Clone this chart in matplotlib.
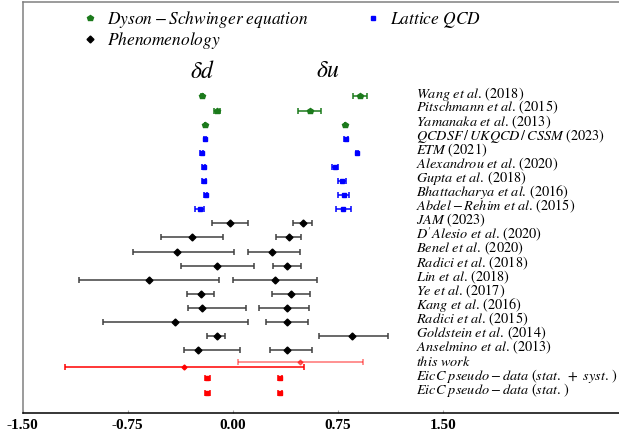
import matplotlib
matplotlib.use("Agg")
import matplotlib.pyplot as plt
from matplotlib.lines import Line2D
import numpy as np

plt.rcParams['mathtext.fontset'] = 'stix'
plt.rcParams['font.family'] = ['Liberation Serif', 'DejaVu Serif']

# ---------------- data (top row first) ----------------
labels = [
    r"$Wang\ et\ al.\,(2018)$",
    r"$Pitschmann\ et\ al.\,(2015)$",
    r"$Yamanaka\ et\ al.\,(2013)$",
    r"$QCDSF\,/\,UKQCD\,/\,CSSM\ (2023)$",
    r"$ETM\ (2021)$",
    r"$Alexandrou\ et\ al.\,(2020)$",
    r"$Gupta\ et\ al.\,(2018)$",
    r"$Bhattacharya\ et\ al.\,(2016)$",
    r"$Abdel-Rehim\ et\ al.\,(2015)$",
    r"$JAM\ (2023)$",
    r"$D'Alesio\ et\ al.\,(2020)$",
    r"$Benel\ et\ al.\,(2020)$",
    r"$Radici\ et\ al.\,(2018)$",
    r"$Lin\ et\ al.\,(2018)$",
    r"$Ye\ et\ al.\,(2017)$",
    r"$Kang\ et\ al.\,(2016)$",
    r"$Radici\ et\ al.\,(2015)$",
    r"$Goldstein\ et\ al.\,(2014)$",
    r"$Anselmino\ et\ al.\,(2013)$",
    r"$this\ work$",
    r"$EicC\ pseudo-data\ (stat.\ +\ syst.\,)$",
    r"$EicC\ pseudo-data\ (stat.\,)$",
]

# Dyson-Schwinger equation (rows 0-2)
dse_rows = [0, 1, 2]
dse_dd = [-0.22, -0.11, -0.20]
dse_dd_err = [0.005, 0.02, 0.0]
dse_du = [0.907, 0.55, 0.80]
dse_du_err = [0.05, 0.08, 0.0]

# Lattice QCD (rows 3-8)
lat_rows = [3, 4, 5, 6, 7, 8]
lat_dd = [-0.196, -0.222, -0.208, -0.204, -0.194, -0.236]
lat_dd_err = [0.008, 0.008, 0.008, 0.015, 0.014, 0.033]
lat_du = [0.81, 0.888, 0.729, 0.784, 0.792, 0.791]
lat_du_err = [0.012, 0.01, 0.022, 0.028, 0.042, 0.053]

# Phenomenology (rows 9-18)
phe_rows = [9, 10, 11, 12, 13, 14, 15, 16, 17, 18]
phe_dd = [-0.02, -0.29, -0.40, -0.11, -0.60, -0.226, -0.22, -0.41, -0.11, -0.25]
phe_dd_lo = [0.13, 0.22, 0.31, 0.26, 0.50, 0.10, 0.10, 0.52, 0.07, 0.10]
phe_dd_hi = [0.13, 0.22, 0.41, 0.26, 0.50, 0.09, 0.315, 0.52, 0.055, 0.30]
phe_du = [0.50, 0.40, 0.28, 0.386, 0.30, 0.414, 0.388, 0.386, 0.855, 0.386]
phe_du_lo = [0.07, 0.09, 0.17, 0.096, 0.30, 0.135, 0.20, 0.146, 0.24, 0.116]
phe_du_hi = [0.07, 0.09, 0.20, 0.104, 0.30, 0.135, 0.16, 0.154, 0.255, 0.184]

# this work (row 19)
tw_row = 19
tw_dd = -0.35
tw_dd_lo, tw_dd_hi = 0.85, 0.86
tw_du = 0.48
tw_du_lo, tw_du_hi = 0.44, 0.45

# EicC pseudo-data (rows 20-21)
eic_rows = [20, 21]
eic_dd = [-0.18, -0.18]
eic_dd_err = [0.015, 0.015]
eic_du = [0.336, 0.336]
eic_du_err = [0.015, 0.015]

xticks = [-1.50, -0.75, 0.00, 0.75, 1.50]
xticklabels = ["-1.50", "-0.75", "0.00", "0.75", "1.50"]

# ---------------- plotting ----------------
n = len(labels)
def ypos(rows):
    return [n - 1 - r for r in rows]

fig = plt.figure(figsize=(6.19, 4.38), dpi=100)
ax = fig.add_axes([0.0367, 0.057, 0.9633, 0.9385])

ekw = dict(linestyle='none', capsize=2.5, elinewidth=1.1, capthick=1.1)

# DSE
ax.errorbar(dse_dd, ypos(dse_rows), xerr=dse_dd_err, fmt='p', color='#1b7a1b', ms=4, **ekw)
ax.errorbar(dse_du, ypos(dse_rows), xerr=dse_du_err, fmt='p', color='#1b7a1b', ms=4, **ekw)
# Lattice
ax.errorbar(lat_dd, ypos(lat_rows), xerr=lat_dd_err, fmt='s', color='#0000ff', ms=3.5, **ekw)
ax.errorbar(lat_du, ypos(lat_rows), xerr=lat_du_err, fmt='s', color='#0000ff', ms=3.5, **ekw)
# Phenomenology
ax.errorbar(phe_dd, ypos(phe_rows), xerr=[phe_dd_lo, phe_dd_hi], fmt='D', color='black',
            ecolor=(0.25, 0.25, 0.25), ms=3.5, **ekw)
ax.errorbar(phe_du, ypos(phe_rows), xerr=[phe_du_lo, phe_du_hi], fmt='D', color='black',
            ecolor=(0.25, 0.25, 0.25), ms=3.5, **ekw)
# this work
ytw = n - 1 - tw_row
ax.errorbar([tw_du], [ytw + 0.16], xerr=[[tw_du_lo], [tw_du_hi]], fmt='D', color='#ff0000',
            ms=2.5, alpha=0.55, **ekw)
ax.errorbar([tw_dd], [ytw - 0.2], xerr=[[tw_dd_lo], [tw_dd_hi]], fmt='D', color='#ff0000',
            ms=2.5, **ekw)
# EicC
ax.errorbar(eic_dd, ypos(eic_rows), xerr=eic_dd_err, fmt='s', color='#ff0000', ms=3.5, **ekw)
ax.errorbar(eic_du, ypos(eic_rows), xerr=eic_du_err, fmt='s', color='#ff0000', ms=3.5, **ekw)

# row labels
for i, lab in enumerate(labels):
    ax.text(1.307, n - 1 - i + 0.2, lab, fontsize=10.3, va='center', ha='left')

# delta labels
ax.text(-0.215, 22.75, r"$\delta d$", fontsize=17, ha='center', va='center')
ax.text(0.68, 22.75, r"$\delta u$", fontsize=17, ha='center', va='center')

ax.set_xlim(-1.5, 2.76)
ax.set_ylim(-1.45, 27.7)
ax.set_yticks([])
ax.set_xticks(xticks)
ax.set_xticklabels(xticklabels, fontweight='bold', fontsize=11)
ax.tick_params(axis='x', direction='in', length=2, color='#aaaaaa', pad=4)

ax.spines['right'].set_visible(False)
ax.spines['left'].set_color('#808080')
ax.spines['top'].set_color('#808080')
ax.spines['bottom'].set_color('black')
for s in ax.spines.values():
    s.set_linewidth(1.1)

handles = [
    Line2D([], [], marker='p', color='#1b7a1b', linestyle='none', ms=4),
    Line2D([], [], marker='D', color='black', linestyle='none', ms=3.5),
    Line2D([], [], marker='s', color='#0000ff', linestyle='none', ms=3.5),
]
leg_labels = [r"$Dyson-Schwinger\ equation$", r"$Phenomenology$", r"$Lattice\ QCD$"]
ax.legend(handles, leg_labels, ncol=2, frameon=False, fontsize=12.5,
          loc='upper left', bbox_to_anchor=(0.072, 1.02), handlelength=1.0,
          handletextpad=0.5, columnspacing=3.2, labelspacing=0.0)

fig.savefig("out.png", dpi=100)
